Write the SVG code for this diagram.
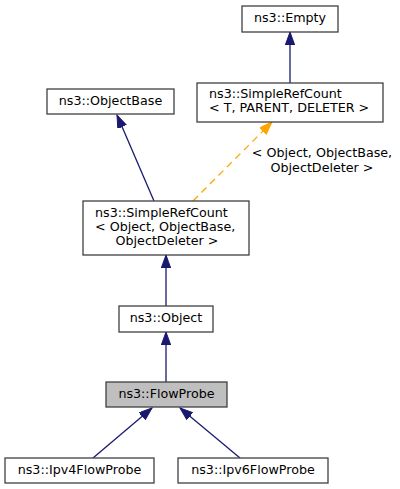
<svg xmlns="http://www.w3.org/2000/svg" width="400" height="489" viewBox="0 0 400 489">
<style>
.box{fill:#ffffff;stroke:#404040;stroke-width:1.3}
.cur{fill:#bfbfbf;stroke:#404040;stroke-width:1.3}
text{font-family:"DejaVu Sans",sans-serif;font-size:12.7px;fill:#000000}
.e{fill:none;stroke:#191970;stroke-width:1.3}
.t{fill:none;stroke:#ffa500;stroke-width:1.3;stroke-dasharray:7,5}
</style>
<defs>
<marker id="an" markerUnits="userSpaceOnUse" markerWidth="14" markerHeight="10" refX="13" refY="4.7" orient="auto">
<path d="M0,0 L13,4.7 L0,9.4 z" fill="#191970" stroke="#191970" stroke-width="1"/>
</marker>
<marker id="ao" markerUnits="userSpaceOnUse" markerWidth="14" markerHeight="10" refX="13" refY="4.7" orient="auto">
<path d="M0,0 L13,4.7 L0,9.4 z" fill="#ffa500" stroke="#ffa500" stroke-width="1"/>
</marker>
</defs>
<g id="connectors">
<path class="e" d="M290,83 L290,32" marker-end="url(#an)"/>
<path class="e" d="M154,201 L117,115" marker-end="url(#an)"/>
<path class="t" d="M193,201 L272,122" marker-end="url(#ao)"/>
<text x="322" y="157" text-anchor="middle">&lt; Object, ObjectBase,</text>
<text x="322" y="172" text-anchor="middle">ObjectDeleter &gt;</text>
<path class="e" d="M166,306 L166,255" marker-end="url(#an)"/>
<path class="e" d="M166,382 L166,332" marker-end="url(#an)"/>
<path class="e" d="M93,458 L152,408" marker-end="url(#an)"/>
<path class="e" d="M240,458 L180,408" marker-end="url(#an)"/>
</g>
<g id="node-empty">
<rect class="box" x="242" y="6" width="96" height="26"/>
<text x="290" y="22" text-anchor="middle">ns3::Empty</text>
</g>
<g id="node-simplerefcount-t">
<rect class="box" x="197" y="83" width="186" height="39"/>
<text x="209" y="97.5">ns3::SimpleRefCount</text>
<text x="209" y="111.5">&lt; T, PARENT, DELETER &gt;</text>
</g>
<g id="node-objectbase">
<rect class="box" x="47" y="89" width="127" height="25"/>
<text x="110.5" y="104.5" text-anchor="middle">ns3::ObjectBase</text>
</g>
<g id="node-simplerefcount-object">
<rect class="box" x="83" y="201" width="166" height="54"/>
<text x="95" y="216.5">ns3::SimpleRefCount</text>
<text x="95" y="230.5">&lt; Object, ObjectBase,</text>
<text x="167" y="245" text-anchor="middle">ObjectDeleter &gt;</text>
</g>
<g id="node-object">
<rect class="box" x="119" y="306" width="94" height="26"/>
<text x="166" y="322" text-anchor="middle">ns3::Object</text>
</g>
<g id="node-flowprobe">
<rect class="cur" x="106" y="382" width="121" height="25"/>
<text x="166.5" y="398" text-anchor="middle">ns3::FlowProbe</text>
</g>
<g id="node-ipv4flowprobe">
<rect class="box" x="5" y="458" width="149" height="25"/>
<text x="79.5" y="474" text-anchor="middle">ns3::Ipv4FlowProbe</text>
</g>
<g id="node-ipv6flowprobe">
<rect class="box" x="178" y="458" width="150" height="25"/>
<text x="253" y="474" text-anchor="middle">ns3::Ipv6FlowProbe</text>
</g>
</svg>
